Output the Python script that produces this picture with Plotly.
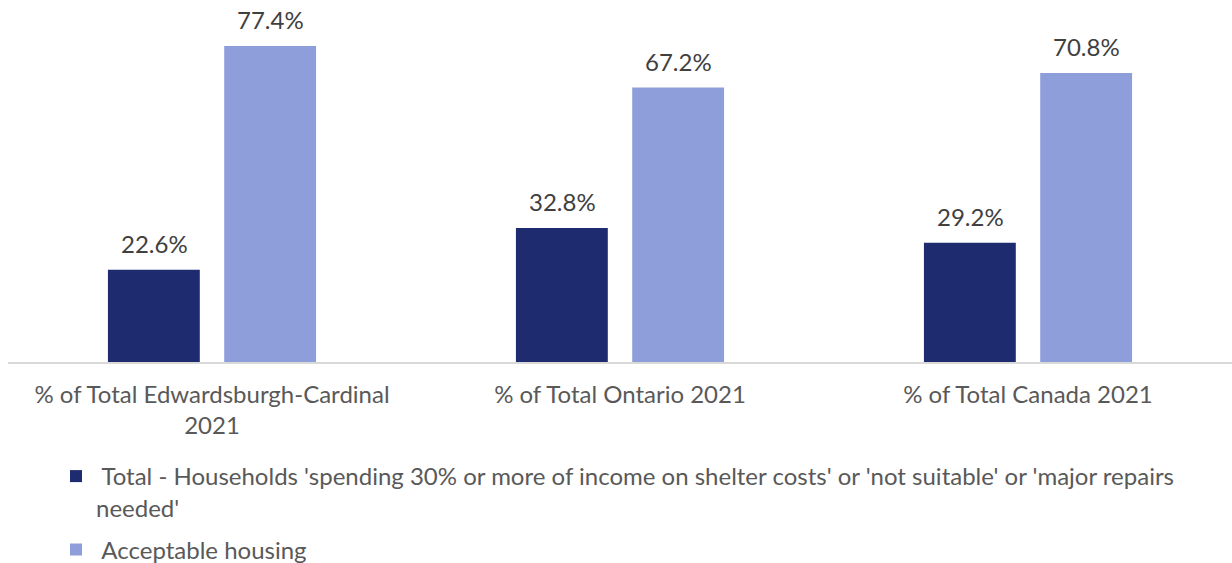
import plotly.graph_objects as go

# Core housing need comparison, 2021
categories = [
    "% of Total Edwardsburgh-Cardinal<br>2021",
    "% of Total Ontario 2021",
    "% of Total Canada 2021",
]
series_names = [
    " Total - Households 'spending 30% or more of income on shelter costs' or 'not suitable' or 'major repairs<br>needed'",
    " Acceptable housing",
]
need_values = [22.6, 32.8, 29.2]
acceptable_values = [77.4, 67.2, 70.8]

colors = ["#1F2B6F", "#8E9EDA"]
label_color = "#404040"
axis_text_color = "#595959"
font_family = "Lato, Calibri, Carlito, sans-serif"

fig = go.Figure()
for name, vals, col, grp in zip(series_names, [need_values, acceptable_values], colors, ["a", "b"]):
    fig.add_trace(go.Bar(
        x=categories,
        y=vals,
        name=name,
        marker=dict(color=col, line=dict(width=0)),
        legendgroup=grp,
        hoverinfo="skip",
    ))

# value labels above each bar
offsets = [-58, 58]
for vals, dx in zip([need_values, acceptable_values], offsets):
    for cat, v in zip(categories, vals):
        fig.add_annotation(
            x=cat, y=v, xref="x", yref="y",
            text=f"{v:.1f}%",
            showarrow=False,
            xshift=dx, yshift=10,
            yanchor="bottom",
            font=dict(family=font_family, size=24, color=label_color),
        )

fig.update_layout(
    width=1232, height=563,
    margin=dict(l=8, r=0, t=0, b=201, autoexpand=False),
    paper_bgcolor="white",
    plot_bgcolor="white",
    barmode="group",
    bargap=0.43,
    bargroupgap=0.21,
    font=dict(family=font_family, size=24, color=axis_text_color),
    showlegend=True,
    legend=dict(
        orientation="v",
        xref="container", yref="container",
        x=56 / 1232, y=1 - 454 / 563,
        xanchor="left", yanchor="top",
        traceorder="grouped",
        tracegroupgap=8,
        valign="top",
        font=dict(family=font_family, size=24, color=axis_text_color),
        bgcolor="rgba(0,0,0,0)",
        itemwidth=30,
    ),
    xaxis=dict(
        showline=True, linecolor="#D9D9D9", linewidth=1.5,
        showgrid=False, ticks="", zeroline=False,
        tickangle=0,
        tickfont=dict(family=font_family, size=24, color=axis_text_color),
        ticklabelstandoff=10,
    ),
    yaxis=dict(
        range=[0, 88.66], visible=False, showgrid=False, zeroline=False,
    ),
)

fig.write_html("out.html")
